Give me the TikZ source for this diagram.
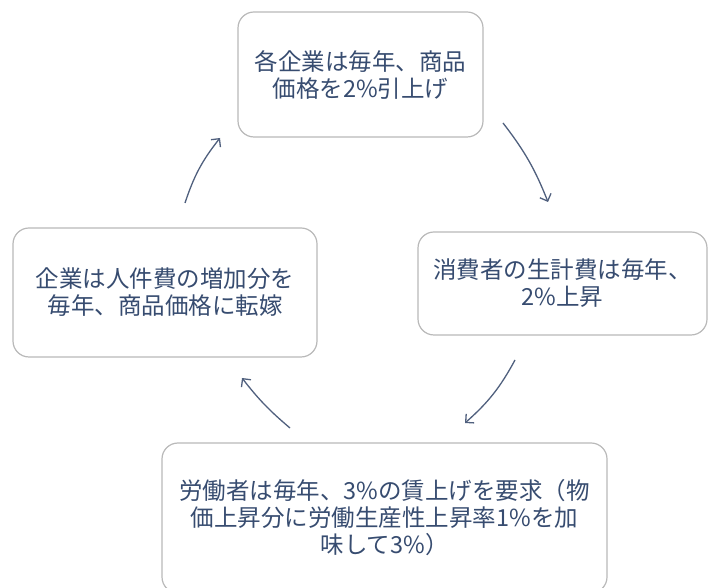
\documentclass[tikz,border=0pt]{standalone}
\usepackage{fontspec}
\setmainfont{Noto Sans CJK JP}
\usetikzlibrary{arrows.meta}
\definecolor{txt}{RGB}{55,76,112}
\definecolor{arr}{RGB}{80,96,126}
\definecolor{brd}{RGB}{185,185,185}
\begin{document}
\begin{tikzpicture}[x=1pt,y=1pt,
  box/.style={draw=brd, line width=1.2pt, rounded corners=16pt, fill=white, text=txt,
    align=center, font=\fontsize{23.5}{27}\selectfont, inner sep=0pt},
  flow/.style={draw=arr, line width=1.3pt, -{Straight Barb[length=6pt,width=12pt]}}]
\useasboundingbox (0,0) rectangle (709,588);
\clip (0,0) rectangle (709,588);
\node[box, minimum width=245, minimum height=125] (top) at (360.5,513.5)
  {各企業は毎年、商品\\価格を2\%引上げ};
\node[box, minimum width=289, minimum height=103] (right) at (562.5,304.5)
  {消費者の生計費は毎年、\\2\%上昇};
\node[box, minimum width=304, minimum height=129] (left) at (165,295.5)
  {企業は人件費の増加分を\\毎年、商品価格に転嫁};
\node[box, minimum width=445, minimum height=150] (bottom) at (384.5,70)
  {労働者は毎年、3\%の賃上げを要求（物\\価上昇分に労働生産性上昇率1\%を加\\味して3\%）};
\coordinate (a1s) at (503,465);
\coordinate (a1e) at (548,386);
\coordinate (a2s) at (515,228);
\coordinate (a2e) at (465,165);
\coordinate (a3s) at (290,160);
\coordinate (a3e) at (242,210);
\coordinate (a4s) at (185,385);
\coordinate (a4e) at (220,450);
\draw[flow] (a1s) to[bend left=8] (a1e);
\draw[flow] (a2s) to[bend left=10] (a2e);
\draw[flow] (a3s) to[bend left=6] (a3e);
\draw[flow] (a4s) to[bend left=10] (a4e);
\end{tikzpicture}
\end{document}
